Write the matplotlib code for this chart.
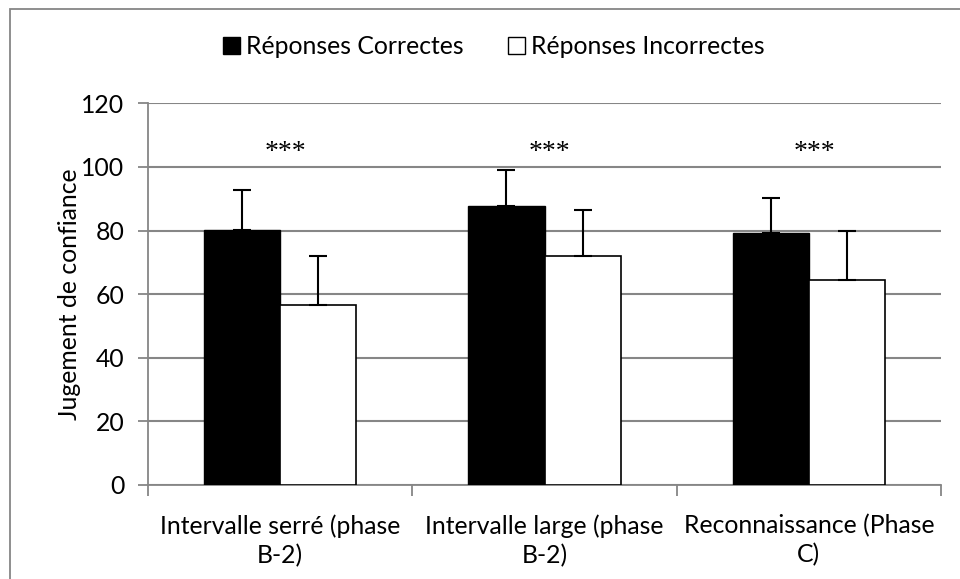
import numpy as np
import matplotlib
matplotlib.use('Agg')
import matplotlib.pyplot as plt
from matplotlib.patches import Patch, Rectangle

# données
categories = ['Intervalle serré (phase\nB-2)', 'Intervalle large (phase\nB-2)', 'Reconnaissance (Phase\nC)']
correctes = [80.3, 87.6, 79.3]
correctes_err = [12.4, 11.3, 11.0]
incorrectes = [56.7, 71.9, 64.6]
incorrectes_err = [15.2, 14.6, 15.2]
signif = ['***', '***', '***']
signif_y = 104.6
y_ticks = [0, 20, 40, 60, 80, 100, 120]

GRIS = '#868686'
FS = 17.8
plt.rcParams['font.family'] = ['Lato', 'DejaVu Sans']


def main():
    fig = plt.figure(figsize=(9.6, 5.79), dpi=100)
    ax = fig.add_axes([148 / 960, 1 - 485 / 579, (941 - 148) / 960, (485 - 103.3) / 579])

    # cadre du graphique (coupé à droite et en bas)
    fig.patches.append(Rectangle((10 / 960, -0.1), 1.2, 1.1 - 9 / 579, transform=fig.transFigure,
                                 fill=False, edgecolor=GRIS, linewidth=1.3))

    x = np.arange(len(categories))
    w = 0.288
    ax.bar(x - w / 2, correctes, w, color='black', edgecolor='black', linewidth=1, zorder=3)
    ax.bar(x + w / 2, incorrectes, w, color='white', edgecolor='black', linewidth=1.2, zorder=3)

    # barres d'erreur (seulement vers le haut)
    ax.errorbar(x - w / 2, correctes, yerr=[np.zeros(3), correctes_err], fmt='none',
                ecolor='black', elinewidth=1.5, capsize=6.5, capthick=1.5, zorder=4)
    ax.errorbar(x + w / 2, incorrectes, yerr=[np.zeros(3), incorrectes_err], fmt='none',
                ecolor='black', elinewidth=1.5, capsize=6.5, capthick=1.5, zorder=4)

    for xi, s in zip(x, signif):
        ax.text(xi + 0.02, signif_y, s, ha='center', va='center', fontsize=20,
                family=['Liberation Serif'])

    ax.set_xlim(-0.5, len(categories) - 0.5)
    ax.set_ylim(0, 120)
    ax.set_yticks(y_ticks)
    ax.set_xticks(x)
    ax.set_xticklabels(categories, fontsize=FS, linespacing=1.3)
    ax.set_xticks(np.arange(len(categories) + 1) - 0.5, minor=True)
    ax.tick_params(axis='x', which='major', length=0, pad=21)
    ax.tick_params(axis='x', which='minor', length=8, color=GRIS, width=1.3)
    ax.tick_params(axis='y', length=7, color=GRIS, width=1.3, labelsize=FS, pad=10)

    ax.yaxis.grid(True, color=GRIS, linewidth=1.5)
    ax.set_axisbelow(True)
    for side in ['top', 'right']:
        ax.spines[side].set_visible(False)
    for side in ['left', 'bottom']:
        ax.spines[side].set_color(GRIS)
        ax.spines[side].set_linewidth(1.3)

    ax.set_ylabel('Jugement de confiance', fontsize=FS, labelpad=0)

    handles = [Patch(facecolor='black', edgecolor='black'),
               Patch(facecolor='white', edgecolor='black')]
    fig.legend(handles, ['Réponses Correctes', 'Réponses Incorrectes'], loc='center',
               bbox_to_anchor=(494 / 960, 1 - 47 / 579), ncol=2, frameon=False,
               fontsize=FS, handlelength=0.68, handleheight=0.68, handletextpad=0.25,
               columnspacing=1.8)

    fig.savefig('out.png', dpi=100)


if __name__ == '__main__':
    main()
